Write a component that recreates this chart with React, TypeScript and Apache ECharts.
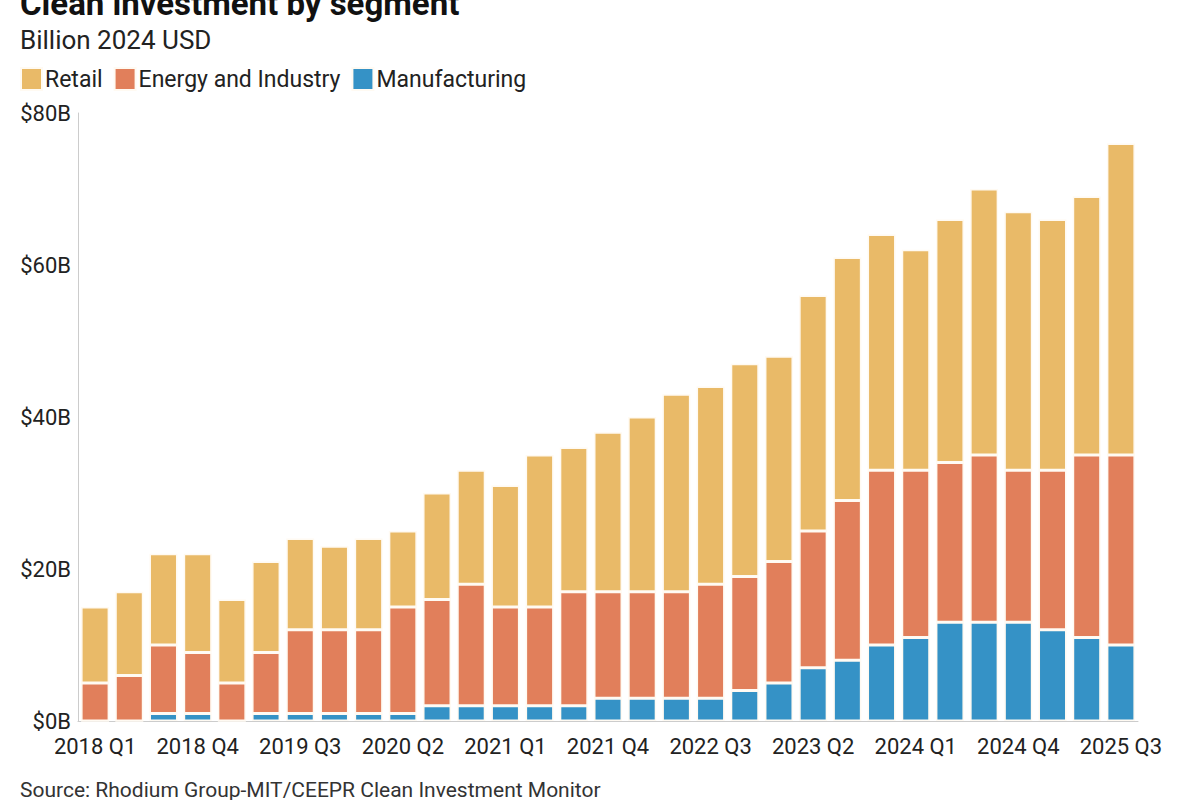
import { useEffect, useRef } from 'react';
import * as echarts from 'echarts';

const quarters = [
  '2018 Q1', '2018 Q2', '2018 Q3', '2018 Q4',
  '2019 Q1', '2019 Q2', '2019 Q3', '2019 Q4',
  '2020 Q1', '2020 Q2', '2020 Q3', '2020 Q4',
  '2021 Q1', '2021 Q2', '2021 Q3', '2021 Q4',
  '2022 Q1', '2022 Q2', '2022 Q3', '2022 Q4',
  '2023 Q1', '2023 Q2', '2023 Q3', '2023 Q4',
  '2024 Q1', '2024 Q2', '2024 Q3', '2024 Q4',
  '2025 Q1', '2025 Q2', '2025 Q3',
];

// billions of 2024 USD, per segment (stacked: manufacturing at the bottom)
const manufacturing = [0, 0, 1, 1, 0, 1, 1, 1, 1, 1, 2, 2, 2, 2, 2, 3, 3, 3, 3, 4, 5, 7, 8, 10, 11, 13, 13, 13, 12, 11, 10];
const energyIndustry = [5, 6, 9, 8, 5, 8, 11, 11, 11, 14, 14, 16, 13, 13, 15, 14, 14, 14, 15, 15, 16, 18, 21, 23, 22, 21, 22, 20, 21, 24, 25];
const retail = [10, 11, 12, 13, 11, 12, 12, 11, 12, 10, 14, 15, 16, 20, 19, 21, 23, 26, 26, 28, 27, 31, 32, 31, 29, 32, 35, 34, 33, 34, 41];

const yTicks = [0, 20, 40, 60, 80];

const FONT = 'Roboto, "Noto Sans", sans-serif';

function App() {
  const chartRef = useRef<HTMLDivElement>(null);

  useEffect(() => {
    if (!chartRef.current) return;
    const chart = echarts.init(chartRef.current, undefined, { renderer: 'svg' });

    const barStyle = (color: string) => ({
      color,
      borderColor: '#fffaf2',
      borderWidth: 1.5,
    });

    const option: echarts.EChartsOption = {
      animation: false,
      backgroundColor: '#ffffff',
      textStyle: { fontFamily: FONT },
      title: [
        {
          text: 'Clean investment by segment',
          left: 15,
          top: -18,
          textStyle: { fontSize: 33, fontWeight: 'bold', color: '#111', fontFamily: FONT },
        },
        {
          text: 'Billion 2024 USD',
          left: 15,
          top: 22,
          textStyle: { fontSize: 26, fontWeight: 'normal', color: '#222', fontFamily: FONT },
        },
        {
          text: 'Source: Rhodium Group-MIT/CEEPR Clean Investment Monitor',
          left: 15,
          top: 774,
          textStyle: { fontSize: 21, fontWeight: 'normal', color: '#333', fontFamily: FONT },
        },
      ],
      legend: {
        data: ['Retail', 'Energy and Industry', 'Manufacturing'],
        left: 15,
        top: 62,
        icon: 'rect',
        itemWidth: 21,
        itemHeight: 22,
        itemGap: 11,
        textStyle: { fontSize: 23, color: '#222', fontFamily: FONT, padding: [0, 0, 0, -2] },
      },
      grid: {
        left: 78,
        right: 62,
        top: 113,
        bottom: 79,
        containLabel: false,
      },
      xAxis: {
        type: 'category',
        data: quarters,
        axisLine: { lineStyle: { color: '#cccccc', width: 1 } },
        axisTick: { show: false },
        axisLabel: {
          interval: 2,
          fontSize: 22,
          color: '#222',
          margin: 14,
          fontFamily: FONT,
        },
      },
      yAxis: {
        type: 'value',
        min: yTicks[0],
        max: yTicks[yTicks.length - 1],
        interval: 20,
        axisLine: { show: true, lineStyle: { color: '#cccccc', width: 1 } },
        axisTick: { show: false },
        splitLine: { show: false },
        axisLabel: {
          fontSize: 22,
          color: '#222',
          margin: 7,
          fontFamily: FONT,
          formatter: (v: number) => `$${v}B`,
        },
      },
      series: [
        {
          name: 'Manufacturing',
          type: 'bar',
          stack: 'total',
          barWidth: 28,
          data: manufacturing,
          itemStyle: barStyle('#3592c6'),
        },
        {
          name: 'Energy and Industry',
          type: 'bar',
          stack: 'total',
          barWidth: 28,
          data: energyIndustry,
          itemStyle: barStyle('#e17f5b'),
        },
        {
          name: 'Retail',
          type: 'bar',
          stack: 'total',
          barWidth: 28,
          data: retail,
          itemStyle: barStyle('#e9ba68'),
        },
      ],
    };

    chart.setOption(option);

    return () => {
      chart.dispose();
    };
  }, []);

  return (
    <div
      ref={chartRef}
      style={{ position: 'absolute', left: 0, top: 0, width: '1200px', height: '800px' }}
    />
  );
}

export default App;
